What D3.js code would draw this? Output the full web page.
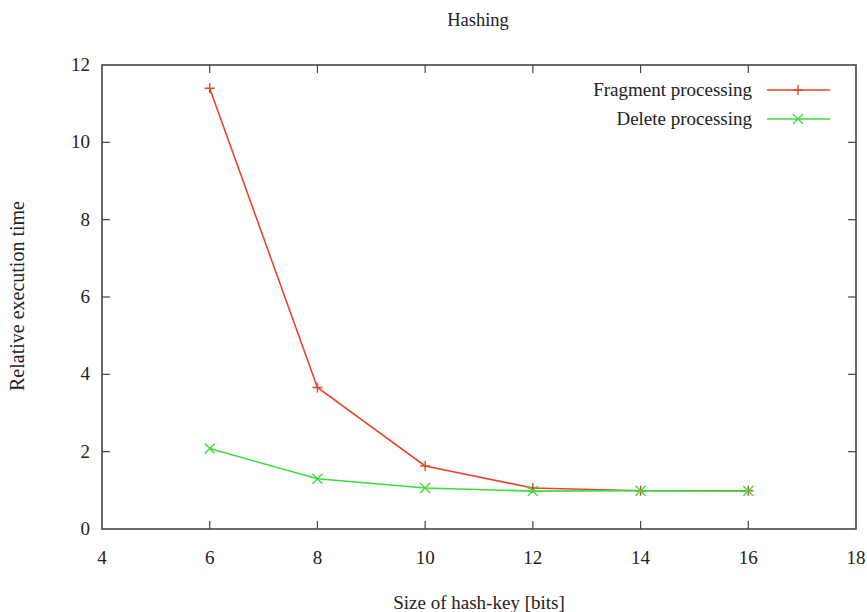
<!DOCTYPE html>
<html>
<head>
<meta charset="utf-8">
<script src="https://cdn.jsdelivr.net/npm/d3@7"></script>
<style>
  body { margin: 0; background: #fff; }
  text { font-family: "Liberation Serif", "DejaVu Serif", serif; fill: #222; }
</style>
</head>
<body>
<div id="chart"></div>
<script>
const width = 867, height = 612;

// data
const keyBits = [6, 8, 10, 12, 14, 16];
const fragmentTimes = [11.4, 3.66, 1.63, 1.06, 0.99, 0.99];
const deleteTimes = [2.08, 1.3, 1.06, 0.98, 0.99, 0.98];
const xTicks = [4, 6, 8, 10, 12, 14, 16, 18];
const yTicks = [0, 2, 4, 6, 8, 10, 12];
const seriesNames = ["Fragment processing", "Delete processing"];
const seriesColors = ["#e8452f", "#3ddc3d"];

const margin = {top: 65, right: 11, bottom: 83, left: 102};

const x = d3.scaleLinear().domain([4, 18]).range([margin.left, width - margin.right]);
const y = d3.scaleLinear().domain([0, 12]).range([height - margin.bottom, margin.top]);

const svg = d3.select('#chart').append('svg')
  .attr('width', width)
  .attr('height', height);

const tickLen = 8;
const axisColor = "#444";

// frame
svg.append('rect')
  .attr('x', x(4)).attr('y', y(12))
  .attr('width', x(18) - x(4)).attr('height', y(0) - y(12))
  .attr('fill', 'none').attr('stroke', axisColor).attr('stroke-width', 1.6);

// inward ticks, mirrored on opposite sides
xTicks.slice(1, -1).forEach(function(t){
  svg.append('line').attr('x1', x(t)).attr('x2', x(t))
    .attr('y1', y(0)).attr('y2', y(0) - tickLen)
    .attr('stroke', axisColor).attr('stroke-width', 1.2);
  svg.append('line').attr('x1', x(t)).attr('x2', x(t))
    .attr('y1', y(12)).attr('y2', y(12) + tickLen)
    .attr('stroke', axisColor).attr('stroke-width', 1.2);
});
yTicks.slice(1, -1).forEach(function(t){
  svg.append('line').attr('x1', x(4)).attr('x2', x(4) + tickLen)
    .attr('y1', y(t)).attr('y2', y(t))
    .attr('stroke', axisColor).attr('stroke-width', 1.2);
  svg.append('line').attr('x1', x(18)).attr('x2', x(18) - tickLen)
    .attr('y1', y(t)).attr('y2', y(t))
    .attr('stroke', axisColor).attr('stroke-width', 1.2);
});

// tick labels
svg.selectAll('.xlab').data(xTicks).enter().append('text')
  .attr('x', function(d){ return x(d); })
  .attr('y', y(0) + 35)
  .attr('text-anchor', 'middle')
  .attr('font-size', 19)
  .text(function(d){ return d; });

svg.selectAll('.ylab').data(yTicks).enter().append('text')
  .attr('x', x(4) - 12)
  .attr('y', function(d){ return y(d) + 6; })
  .attr('text-anchor', 'end')
  .attr('font-size', 19)
  .text(function(d){ return d; });

// titles
svg.append('text').attr('x', 478).attr('y', 26)
  .attr('text-anchor', 'middle').attr('font-size', 18.5).text('Hashing');
svg.append('text').attr('x', 479).attr('y', 609)
  .attr('text-anchor', 'middle').attr('font-size', 19).text('Size of hash-key [bits]');
svg.append('text')
  .attr('transform', 'translate(24,' + 296 + ') rotate(-90)')
  .attr('text-anchor', 'middle').attr('font-size', 20).text('Relative execution time');

const line = d3.line()
  .x(function(d){ return x(d[0]); })
  .y(function(d){ return y(d[1]); });

const series = [fragmentTimes, deleteTimes];

function drawMarker(g, cx, cy, i, color){
  const s = 5;
  if (i === 0) {
    g.append('path').attr('d', 'M' + (cx - s) + ',' + cy + 'H' + (cx + s) + 'M' + cx + ',' + (cy - s) + 'V' + (cy + s))
      .attr('stroke', color).attr('stroke-width', 1.4).attr('fill', 'none');
  } else {
    g.append('path').attr('d', 'M' + (cx - s) + ',' + (cy - s) + 'L' + (cx + s) + ',' + (cy + s) + 'M' + (cx - s) + ',' + (cy + s) + 'L' + (cx + s) + ',' + (cy - s))
      .attr('stroke', color).attr('stroke-width', 1.4).attr('fill', 'none');
  }
}

// green drawn last, it sits on top where the lines meet
series.forEach(function(vals, i){
  const pts = keyBits.map(function(k, j){ return [k, vals[j]]; });
  const g = svg.append('g');
  g.append('path').datum(pts)
    .attr('d', line)
    .attr('fill', 'none')
    .attr('stroke', seriesColors[i])
    .attr('stroke-width', 1.6);
  pts.forEach(function(p){ drawMarker(g, x(p[0]), y(p[1]), i, seriesColors[i]); });
});

// legend
const legendY = [90, 119];
seriesNames.forEach(function(name, i){
  svg.append('text')
    .attr('x', 752).attr('y', legendY[i] + 6)
    .attr('text-anchor', 'end').attr('font-size', 19)
    .text(name);
  svg.append('line')
    .attr('x1', 767).attr('x2', 830)
    .attr('y1', legendY[i]).attr('y2', legendY[i])
    .attr('stroke', seriesColors[i]).attr('stroke-width', 1.6);
  drawMarker(svg, 798, legendY[i], i, seriesColors[i]);
});
</script>
</body>
</html>
